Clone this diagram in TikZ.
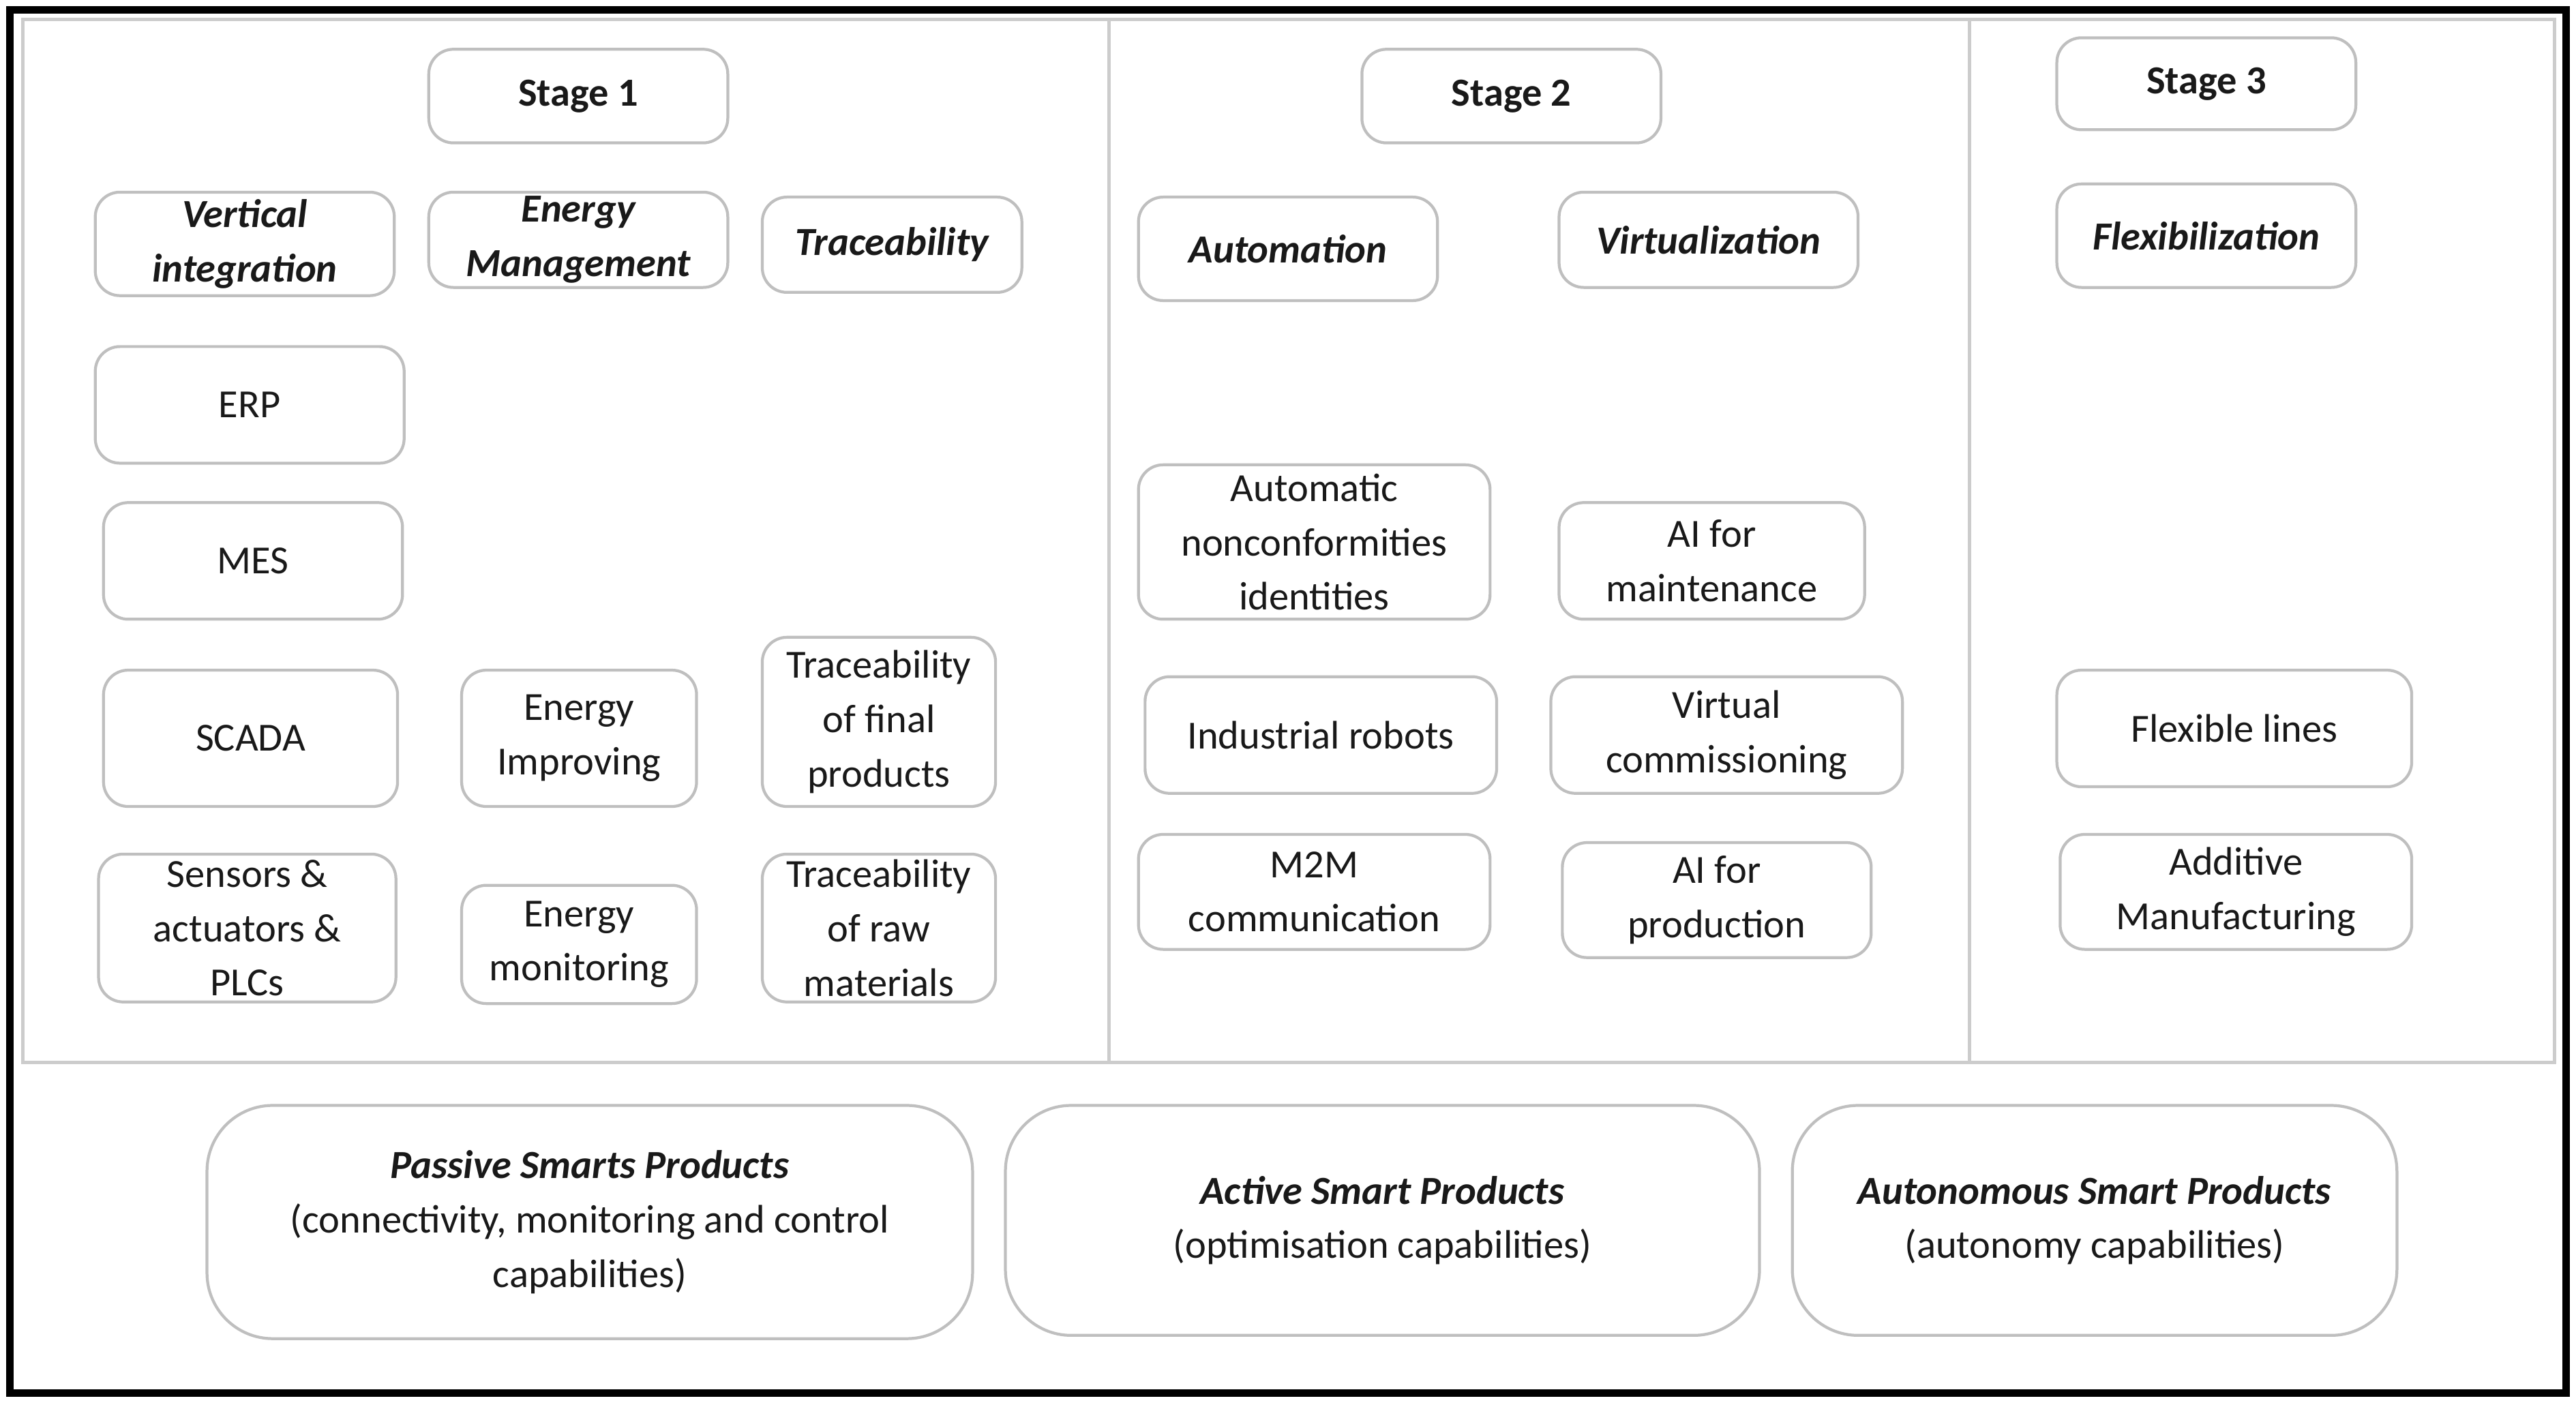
\documentclass[tikz,border=0pt]{standalone}
\usepackage{fontspec}
\setmainfont{Carlito}
\begin{document}
\newcommand\bx[7][]{%
 \pgfmathsetmacro\ww{(#5-#3)*0.01}\pgfmathsetmacro\hh{(#6-#4)*0.01}%
 \node[box,#1,minimum width=\ww cm,minimum height=\hh cm] (#2) at ({(#3+#5)/2},{(#4+#6)/2}) {#7};}
\begin{tikzpicture}[x=0.01cm,y=-0.01cm,
 box/.style={draw=black!25,line width=0.5pt,rounded corners=0.15cm,align=center,inner sep=0pt,font=\fontsize{6.9pt}{9.4pt}\selectfont,text=black!90},
 hd/.style={font=\fontsize{6.9pt}{9.4pt}\selectfont\bfseries},
 cat/.style={font=\fontsize{6.9pt}{9.4pt}\selectfont\bfseries\itshape},
 big/.style={rounded corners=0.4cm}]
\useasboundingbox (0,0) rectangle (1568,855);
\draw[line width=1.3pt] (6,6) rectangle (1562,848);
\draw[black!20,line width=0.6pt] (14,12) rectangle (1555,647);
\draw[black!20,line width=0.6pt] (675,12) -- (675,647) (1199,12) -- (1199,647);
\bx[hd]{s1}{261}{30}{443}{87}{Stage 1}
\bx[cat]{vi}{58}{117}{240}{180}{Vertical\\integration}
\bx[cat]{em}{261}{117}{443}{175}{Energy\\Management}
\bx[cat]{tr}{464}{120}{622}{178}{Traceability}
\bx{erp}{58}{211}{246}{282}{ERP}
\bx{mes}{63}{306}{245}{377}{MES}
\bx{scada}{63}{408}{242}{491}{SCADA}
\bx{sens}{60}{520}{241}{610}{Sensors \&\\actuators \&\\PLCs}
\bx{ei}{281}{408}{424}{491}{Energy\\Improving}
\bx{emon}{281}{539}{424}{611}{Energy\\monitoring}
\bx{tfp}{464}{388}{606}{491}{Traceability\\of final\\products}
\bx{trm}{464}{520}{606}{610}{Traceability\\of raw\\materials}
\bx[hd]{s2}{829}{30}{1011}{87}{Stage 2}
\bx[cat]{au}{693}{120}{875}{183}{Automation}
\bx[cat]{vz}{949}{117}{1131}{175}{Virtualization}
\bx{anc}{693}{283}{907}{377}{Automatic\\nonconformities\\identities}
\bx{aim}{949}{306}{1135}{377}{AI for\\maintenance}
\bx{ir}{697}{412}{911}{483}{Industrial robots}
\bx{vc}{944}{412}{1158}{483}{Virtual\\commissioning}
\bx{m2m}{693}{508}{907}{578}{M2M\\communication}
\bx{aip}{951}{513}{1139}{583}{AI for\\production}
\bx[hd]{s3}{1252}{23}{1434}{79}{Stage 3}
\bx[cat]{fx}{1252}{112}{1434}{175}{Flexibilization}
\bx{fl}{1252}{408}{1468}{479}{Flexible lines}
\bx{am}{1254}{508}{1468}{578}{Additive\\Manufacturing}
\bx[big]{psp}{126}{673}{592}{815}{\textbf{\textit{Passive Smarts Products}}\\(connectivity, monitoring and control\\capabilities)}
\bx[big]{asp}{612}{673}{1071}{813}{\textbf{\textit{Active Smart Products}}\\(optimisation capabilities)}
\bx[big]{ausp}{1091}{673}{1459}{813}{\textbf{\textit{Autonomous Smart Products}}\\(autonomy capabilities)}
\end{tikzpicture}
\end{document}
